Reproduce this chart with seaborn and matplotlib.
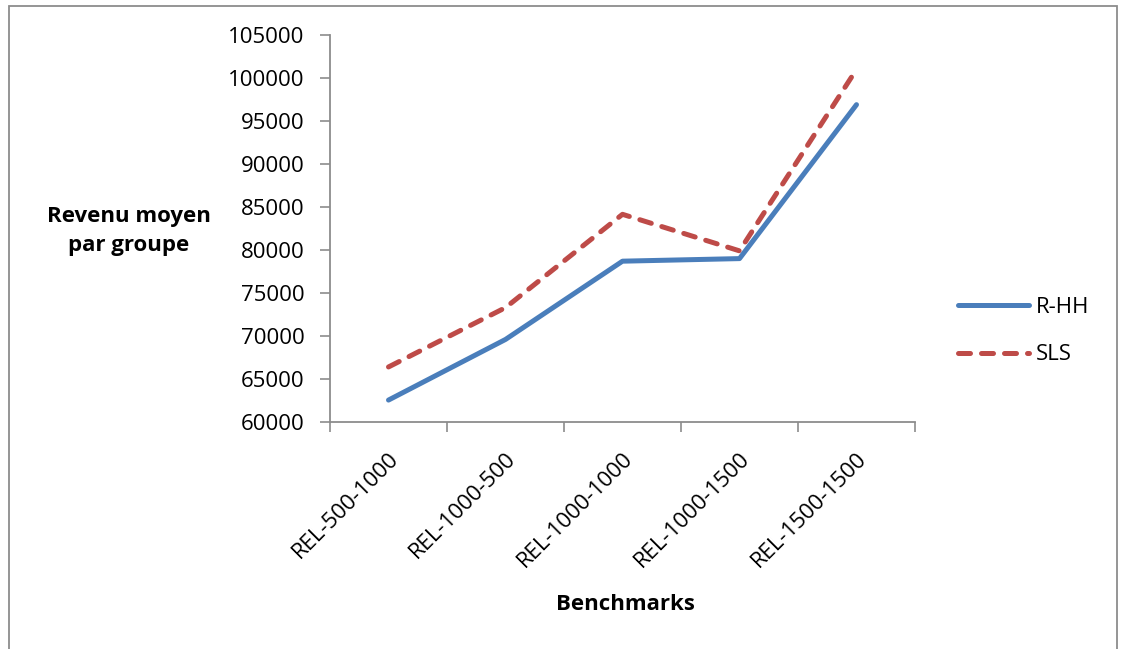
import matplotlib
matplotlib.use("Agg")
import matplotlib.pyplot as plt
from matplotlib.patches import Rectangle
from matplotlib.ticker import FixedLocator, NullFormatter
from matplotlib.transforms import ScaledTranslation
import pandas as pd
import seaborn as sns

# Benchmark instances and average revenue per group for each method
benchmarks = ["REL-500-1000", "REL-1000-500", "REL-1000-1000", "REL-1000-1500", "REL-1500-1500"]
r_hh = [62550, 69600, 78700, 79000, 96900]
sls = [66400, 73300, 84150, 79900, 101000]
y_ticks = list(range(60000, 105001, 5000))

df = pd.DataFrame({
    "pos": list(range(len(benchmarks))) * 2,
    "revenu": r_hh + sls,
    "methode": ["R-HH"] * len(benchmarks) + ["SLS"] * len(benchmarks),
})

sns.set_theme(style="white")
plt.rcParams["font.family"] = ["Open Sans", "DejaVu Sans"]
plt.rcParams["text.color"] = "black"
plt.rcParams["xtick.color"] = "#8C8C8C"
plt.rcParams["ytick.color"] = "#8C8C8C"
plt.rcParams["xtick.labelcolor"] = "black"
plt.rcParams["ytick.labelcolor"] = "black"

W, H = 1122, 649
fig = plt.figure(figsize=(W / 100, H / 100), dpi=100)
ax = fig.add_axes([330 / W, 1 - 422 / H, (915 - 330) / W, (422 - 35) / H])

palette = {"R-HH": "#4A7EBB", "SLS": "#BE4B48"}
sns.lineplot(data=df, x="pos", y="revenu", hue="methode", style="methode",
             palette=palette, dashes={"R-HH": "", "SLS": (2.4, 2.2)},
             linewidth=3.6, ax=ax, legend=True)
for ln in ax.get_lines():
    ln.set_dash_capstyle("round")
    ln.set_solid_capstyle("round")

ax.set_xlim(-0.5, len(benchmarks) - 0.5)
ax.set_ylim(y_ticks[0], y_ticks[-1])
ax.set_yticks(y_ticks)
ax.set_yticklabels([str(v) for v in y_ticks], fontsize=16)

# Tick marks between categories, labels centred on categories
ax.xaxis.set_major_locator(FixedLocator([i - 0.5 for i in range(len(benchmarks) + 1)]))
ax.xaxis.set_major_formatter(NullFormatter())
ax.xaxis.set_minor_locator(FixedLocator(list(range(len(benchmarks)))))
ax.set_xticklabels(benchmarks, minor=True, rotation=45, ha="right", va="top",
                   rotation_mode="anchor", fontsize=16)
shift = ScaledTranslation(-6 / 100, 0, fig.dpi_scale_trans)
for lab in ax.get_xticklabels(minor=True):
    lab.set_transform(lab.get_transform() + shift)
ax.tick_params(axis="x", which="minor", length=0, pad=19)
ax.tick_params(axis="x", which="major", length=7, width=1.2, direction="out", bottom=True)
ax.tick_params(axis="y", length=7, width=1.2, direction="out", left=True, pad=11.5)
ax.set_xlabel("")
ax.set_ylabel("")

for side in ("top", "right"):
    ax.spines[side].set_visible(False)
for side in ("left", "bottom"):
    ax.spines[side].set_color("#8C8C8C")
    ax.spines[side].set_linewidth(1.3)

fig.text(129 / W, 1 - 231 / H, "Revenu moyen\npar groupe", ha="center", va="center",
         fontsize=16, fontweight="bold", linespacing=1.45)
fig.text(625 / W, 1 - 605 / H, "Benchmarks", ha="center", va="center",
         fontsize=16, fontweight="bold")

handles, labels = ax.get_legend_handles_labels()
leg = ax.legend(handles, labels, loc="center left", bbox_to_anchor=(938 / W, 1 - 331 / H),
                bbox_transform=fig.transFigure, frameon=False, fontsize=16,
                handlelength=3.2, labelspacing=1.2, handletextpad=0.3)
for t in leg.get_texts():
    t.set_color("black")

fig.patches.append(Rectangle((9 / W, -0.05), (1117 - 9) / W, 1.05 - 6 / H,
                             transform=fig.transFigure, fill=False,
                             edgecolor="#8C8C8C", linewidth=1.3))

fig.savefig("out.png", dpi=100, facecolor="white")
